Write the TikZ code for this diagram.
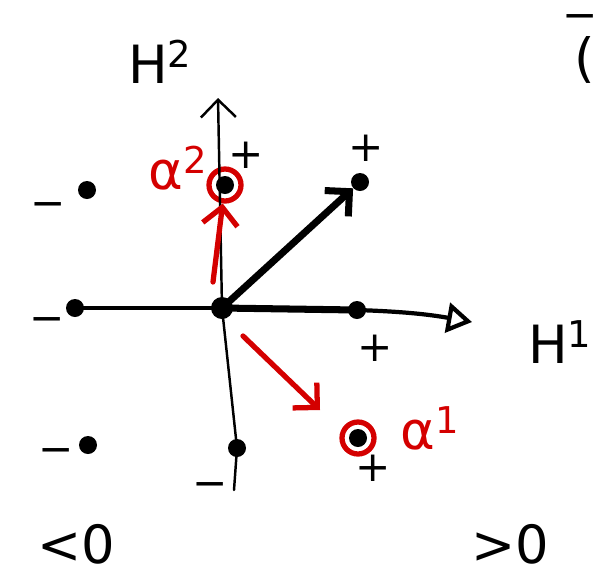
\documentclass[tikz,border=0pt]{standalone}
\usepackage{fontspec}
\setmainfont{DejaVu Sans}
\usetikzlibrary{arrows.meta}
\definecolor{penred}{HTML}{D40000}
\begin{document}
\begin{tikzpicture}[
    x=0.02cm, y=-0.02cm,
    line cap=round,
    dot/.style={circle, fill=black, inner sep=0pt, minimum size=3.6mm},
    ring/.style={circle, draw=penred, line width=3pt, inner sep=0pt, minimum size=6.4mm},
    sign/.style={inner sep=0pt, font=\fontsize{24}{24}\selectfont},
    lbl/.style={inner sep=0pt, font=\fontsize{30}{30}\selectfont},
    redlbl/.style={lbl, text=penred},
    barb/.style={-{Straight Barb[length=3.5mm, width=7mm]}}
]
  \useasboundingbox (0,0) rectangle (597,579);

  %--- exact positions ---
  \node[dot, minimum size=4.4mm] (O) at (222,308) {};
  \node[dot] (e1) at (357,310) {};
  \node[dot] (w) at (75,308) {};
  \node[dot] (nw) at (87,190) {};
  \node[dot] (sw) at (88,445) {};
  \node[dot] (s) at (237,448) {};
  \node[dot] (ne) at (360,182) {};
  \node[dot] (a2) at (225,185) {};
  \node[dot] (a1) at (358,438) {};
  \node[ring] (r2) at (a2) {};
  \node[ring] (r1) at (a1) {};
  \coordinate (V) at (218,98);
  \coordinate (H) at (472,322);
  \coordinate (tail) at (234,490);

  %--- labels ---
  \node[lbl] (H2) at (160,62) {H\textsuperscript{2}};
  \node[lbl] (H1) at (560,342) {H\textsuperscript{1}};
  \node[redlbl] (al2) at (178,168) {α\textsuperscript{2}};
  \node[redlbl] (al1) at (430,428) {α\textsuperscript{1}};
  \node[sign] (p1) at (246,155) {+};
  \node[sign] (p2) at (366,148) {+};
  \node[sign] (p3) at (375,348) {+};
  \node[sign] (p4) at (373,468) {+};
  \node[sign] (m1) at (48,210) {−};
  \node[sign] (m2) at (47,325) {−};
  \node[sign] (m3) at (56,456) {−};
  \node[sign] (m4) at (210,490) {−};
  \node[lbl] (neg) at (76,544) {<0};
  \node[lbl] (pos) at (510,544) {>0};
  \node[lbl] (cut) at (585,60) {(};
  \node[sign] (cutb) at (580,22) {−};

  %--- axes ---
  \draw[line width=1.4pt, barb] (O.center) -- (V);
  \draw[line width=1.4pt] (O.center) -- (s.center) -- (tail);
  \draw[line width=1.8pt] (w.center) -- (O.center);
  \draw[line width=4pt] (O.center) -- (e1.center);
  \draw[line width=2.4pt, -{Triangle[open, length=5mm, width=6mm]}]
    (e1.center) to[bend left=4] (H);

  %--- roots ---
  \draw[line width=4pt, barb] (O.center) -- (ne);
  \draw[penred, line width=3pt, barb] (213,282) -- (r2);
  \draw[penred, line width=3pt, barb] (243,336) -- (320,410);
\end{tikzpicture}
\end{document}
